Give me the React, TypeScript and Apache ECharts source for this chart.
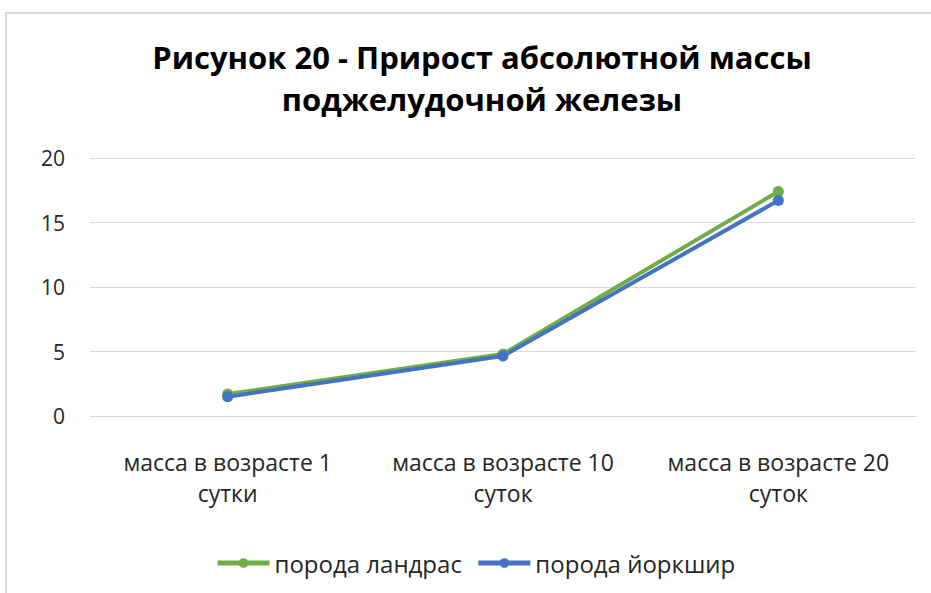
import React, { useEffect, useRef } from "react";
import * as echarts from "echarts";

const categories = ["масса в возрасте 1\nсутки", "масса в возрасте 10\nсуток", "масса в возрасте 20\nсуток"];
const landrace = [1.7, 4.8, 17.4];
const yorkshire = [1.5, 4.65, 16.7];
const seriesNames = ["порода ландрас", "порода йоркшир"];
const titleText = "Рисунок 20 - Прирост абсолютной массы\nподжелудочной железы";

const FONT = "'Open Sans', 'Noto Sans', sans-serif";

export default function App() {
  const ref = useRef<HTMLDivElement>(null);
  useEffect(() => {
    const chart = echarts.init(ref.current!, null, { renderer: "svg" });
    chart.setOption({
      animation: false,
      backgroundColor: "#fff",
      title: {
        text: titleText,
        left: 477,
        top: 31,
        textAlign: "center",
        textStyle: { fontFamily: FONT, fontSize: 31, fontWeight: "bold", color: "#000", lineHeight: 42 },
      },
      graphic: [
        {
          type: "rect",
          shape: { x: 6, y: 13, width: 960, height: 620 },
          style: { fill: "none", stroke: "#d9d9d9", lineWidth: 2 },
        },
      ],
      legend: {
        left: 210,
        top: 546,
        itemWidth: 52,
        itemHeight: 12,
        itemGap: 14,
        lineStyle: { width: 5 },
        textStyle: { fontFamily: FONT, fontSize: 24, color: "#262626" },
        data: seriesNames,
      },
      grid: { left: 90, right: 15, top: 158, bottom: 177 },
      xAxis: {
        type: "category",
        data: categories,
        boundaryGap: true,
        axisLine: { lineStyle: { color: "#d9d9d9" } },
        axisTick: { show: false },
        axisLabel: { fontFamily: FONT, fontSize: 23, color: "#262626", lineHeight: 31, margin: 30, interval: 0 },
      },
      yAxis: {
        type: "value",
        min: 0,
        max: 20,
        interval: 5,
        axisLine: { show: false },
        axisTick: { show: false },
        splitLine: { lineStyle: { color: "#d9d9d9" } },
        axisLabel: { fontFamily: FONT, fontSize: 21, color: "#262626", margin: 25 },
      },
      series: [
        {
          name: seriesNames[0],
          type: "line",
          data: landrace,
          color: "#70ad47",
          lineStyle: { width: 4 },
          symbol: "circle",
          symbolSize: 11,
        },
        {
          name: seriesNames[1],
          type: "line",
          data: yorkshire,
          color: "#4472c4",
          lineStyle: { width: 4 },
          symbol: "circle",
          symbolSize: 11,
        },
      ],
    });
    return () => chart.dispose();
  }, []);
  return <div ref={ref} style={{ position: "absolute", left: 0, top: 0, width: 931, height: 593 }} />;
}
